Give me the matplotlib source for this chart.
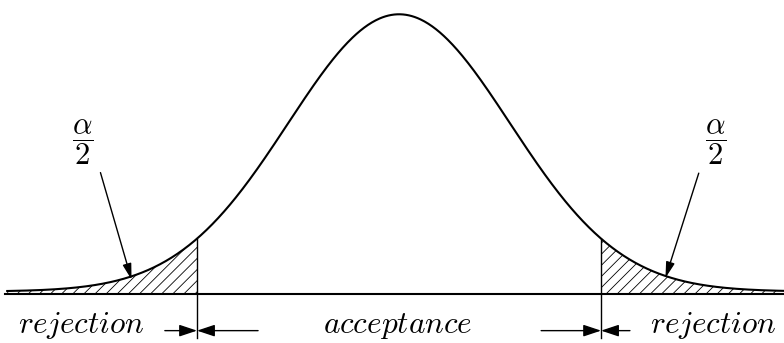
import numpy as np
import matplotlib
matplotlib.use("Agg")
from matplotlib import pyplot as plt

plt.rcParams['mathtext.fontset'] = 'cm'
plt.rcParams['hatch.linewidth'] = 0.6

# distribution (standardised units) and test settings
mu = 0.0
sigma = 1.0
z_crit = 1.82
tail_lift = 0.009          # curve sits a hair above the axis in the tails
x_range = (-3.53, 3.47)

# annotations
region_labels = ['rejection', 'acceptance', 'rejection']
region_x = [-2.86, -0.01, 2.83]
alpha_label_x = [-2.85, 2.85]
alpha_arrow_from = [(-2.69, 0.438), (2.70, 0.436)]
alpha_arrow_to = [(-2.41, 0.052), (2.40, 0.058)]
dim_left = [(-2.11, -0.132), (-1.27, -0.132)]
dim_right = [(1.28, -0.132), (2.08, -0.132)]


def curve(z):
    return tail_lift + np.exp(-0.5 * ((z - mu) / sigma) ** 2)


fig = plt.figure(figsize=(7.84, 3.43), dpi=100)
ax = fig.add_axes([0, 0, 1, 1])
ax.set_xlim(-3.595, 3.468)
ax.set_ylim(-0.1766, 1.0605)
ax.axis('off')

z = np.linspace(x_range[0], x_range[1], 800)
ax.plot(z, curve(z), color='black', lw=1.5, zorder=3)
ax.plot([-3.55, 3.468], [0, 0], color='black', lw=1.5, zorder=3)

# shaded tails
for lo, hi in [(x_range[0], -z_crit), (z_crit, x_range[1])]:
    zz = np.linspace(lo, hi, 200)
    ax.fill_between(zz, 0, curve(zz), facecolor='none', edgecolor='black',
                    hatch='///', linewidth=0, zorder=2)

# critical value lines
for c in (-z_crit, z_crit):
    ax.plot([c, c], [curve(c), -0.158], color='black', lw=1.0, zorder=3)

# alpha/2 labels with arrows
for lx, p0, p1 in zip(alpha_label_x, alpha_arrow_from, alpha_arrow_to):
    ax.text(lx, 0.548, r'$\dfrac{\alpha}{2}$', fontsize=22, ha='center', va='center')
    ax.annotate('', xy=p1, xytext=p0,
                arrowprops=dict(arrowstyle='-|>,head_length=0.8,head_width=0.22',
                                mutation_scale=12, color='black', lw=1.0,
                                shrinkA=0, shrinkB=0))

# dimension arrows pointing at the critical values
for c, (left, right) in zip((-z_crit, z_crit), (dim_left, dim_right)):
    y = left[1]
    for start in (left[0], right[0]):
        ax.annotate('', xy=(c, y), xytext=(start, y),
                    arrowprops=dict(arrowstyle='-|>,head_length=0.9,head_width=0.3',
                                    mutation_scale=12, color='black', lw=1.0,
                                    shrinkA=0, shrinkB=0))

for lab, lx in zip(region_labels, region_x):
    ax.text(lx, -0.139, '$' + lab + '$', fontsize=22.5, ha='center', va='baseline')

fig.savefig('out.png', dpi=100)
